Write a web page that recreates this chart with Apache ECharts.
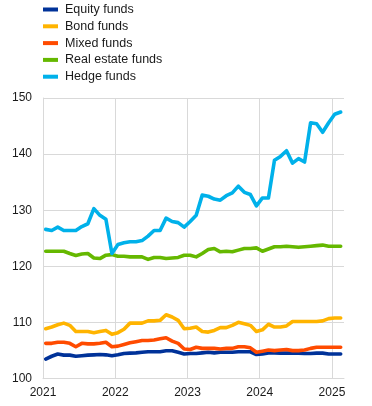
<!DOCTYPE html>
<html>
<head>
<meta charset="utf-8">
<script src="https://cdn.jsdelivr.net/npm/echarts@6/dist/echarts.min.js"></script>
<style>html,body{margin:0;padding:0;background:#fff}#c{width:372px;height:406px}</style>
</head>
<body>
<div id="c"></div>
<script>
// Monthly observations, Jan 2021 .. Feb 2025 (index, 2021-01 = 0)
const seriesNames = ['Equity funds', 'Bond funds', 'Mixed funds', 'Real estate funds', 'Hedge funds'];
const colors = ['#003299', '#ffb400', '#ff4b00', '#65b800', '#00b1ea'];
const yearTicks = ['2021', '2022', '2023', '2024', '2025'];

const equity = [103.5,104.0,104.4,104.2,104.2,104.0,104.1,104.2,104.25,104.3,104.25,104.1,
  104.25,104.5,104.55,104.6,104.7,104.8,104.8,104.8,104.97,104.97,104.7,104.4,
  104.5,104.5,104.6,104.7,104.6,104.7,104.7,104.7,104.8,104.8,104.8,104.3,
  104.4,104.6,104.6,104.55,104.55,104.55,104.55,104.5,104.5,104.55,104.55,104.4,
  104.4,104.4];
const bond = [108.9,109.2,109.6,109.9,109.5,108.4,108.4,108.4,108.2,108.4,108.6,107.9,
  108.2,108.8,109.9,109.9,109.9,110.3,110.3,110.4,111.4,111.0,110.4,108.9,
  109.0,109.2,108.4,108.3,108.6,109.1,109.1,109.5,110.05,109.8,109.5,108.4,
  108.7,109.7,109.2,109.2,109.4,110.2,110.2,110.2,110.2,110.2,110.3,110.7,
  110.8,110.8];
const mixed = [106.3,106.3,106.5,106.5,106.3,105.7,106.3,106.2,106.2,106.3,106.5,105.7,
  105.8,106.1,106.4,106.6,106.8,106.8,106.9,107.1,107.3,106.7,106.3,105.3,
  105.2,105.6,105.4,105.4,105.4,105.3,105.4,105.4,105.7,105.7,105.5,104.7,
  104.9,105.1,105.0,105.1,105.2,105.0,105.0,105.1,105.4,105.6,105.6,105.6,
  105.6,105.6];
const realEstate = [122.7,122.7,122.7,122.7,122.3,121.96,122.2,122.3,121.5,121.4,122.0,122.1,
  121.8,121.8,121.7,121.7,121.7,121.25,121.6,121.6,121.4,121.5,121.6,122.0,
  122.0,121.7,122.3,123.0,123.2,122.6,122.7,122.6,122.9,123.2,123.2,123.3,
  122.7,123.1,123.5,123.5,123.6,123.5,123.4,123.5,123.6,123.7,123.8,123.6,
  123.6,123.6];
const hedge = [126.6,126.4,127.0,126.4,126.4,126.4,127.1,127.6,130.3,129.1,128.4,122.3,
  123.9,124.2,124.4,124.4,124.6,125.4,126.4,126.4,128.6,128.0,127.8,127.0,
  128.0,129.1,132.7,132.5,132.0,131.8,132.6,133.1,134.3,133.2,132.8,130.8,
  132.2,132.2,138.9,139.6,140.6,138.4,139.2,138.6,145.6,145.4,143.9,145.6,
  147.1,147.5];

const allData = [equity, bond, mixed, realEstate, hedge];
// observation position on the month axis (monthly)
function toPoints(arr) { return arr.map((v, i) => [i + 0.45, v]); }

const chart = echarts.init(document.getElementById('c'), null, {renderer: 'canvas'});
const FONT = '"Liberation Sans", Arial, sans-serif';
chart.setOption({
  animation: false,
  color: colors,
  legend: {
    orient: 'vertical', left: 43, top: 3, padding: 0,
    itemWidth: 15, itemHeight: 4, itemGap: 3.8,
    icon: 'rect',
    data: seriesNames,
    textStyle: {fontFamily: FONT, fontSize: 12.5, color: '#1a1a1a', lineHeight: 12, padding: [0, 0, 0, 2]}
  },
  grid: {left: 43, right: 28, top: 98, bottom: 27.3, containLabel: false},
  xAxis: {
    type: 'value', min: 0, max: 50, interval: 12,
    axisLine: {show: true, lineStyle: {color: '#d9d9d9', width: 1}},
    axisTick: {show: false},
    splitLine: {show: true, showMaxLine: false, lineStyle: {color: '#d9d9d9', width: 1}},
    axisLabel: {
      showMaxLabel: false, margin: 8,
      fontFamily: FONT, fontSize: 12, color: '#1a1a1a',
      formatter: v => (v % 12 === 0 ? yearTicks[v / 12] : '')
    }
  },
  yAxis: {
    type: 'value', min: 100, max: 150, interval: 10,
    axisLine: {show: true, lineStyle: {color: '#d9d9d9', width: 1}},
    axisTick: {show: false},
    splitLine: {show: true, lineStyle: {color: '#d9d9d9', width: 1}},
    axisLabel: {margin: 11, fontFamily: FONT, fontSize: 12, color: '#1a1a1a'}
  },
  series: seriesNames.map((n, k) => ({
    name: n, type: 'line', data: toPoints(allData[k]),
    showSymbol: false, symbol: 'none',
    lineStyle: {width: 3.6, color: colors[k], join: 'round', cap: 'round'},
    itemStyle: {color: colors[k]},
    z: 2 + k
  }))
});
</script>
</body>
</html>
